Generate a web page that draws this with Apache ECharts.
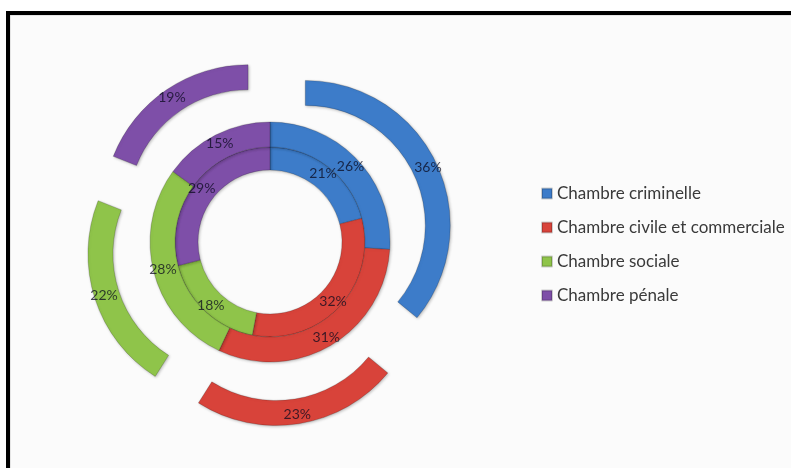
<!DOCTYPE html>
<html>
<head>
<meta charset="utf-8">
<script src="https://cdn.jsdelivr.net/npm/echarts@6/dist/echarts.min.js"></script>
<style>
html,body{margin:0;padding:0;background:#ffffff;}
#c{width:791px;height:468px;}
</style>
</head>
<body>
<div id="c"></div>
<script>
const categories = ['Chambre criminelle', 'Chambre civile et commerciale', 'Chambre sociale', 'Chambre pénale'];
const innerValues = [21, 32, 18, 29];
const middleValues = [26, 31, 28, 15];
const outerValues = [36, 23, 22, 19];
const colors = ['#3d7cc9', '#d8433a', '#8fc44a', '#7e4fa8'];

const chart = echarts.init(document.getElementById('c'), null, {renderer: 'canvas'});

function mk(values, selected) {
  return values.map((v, i) => ({
    name: categories[i],
    value: v,
    selected: selected,
    itemStyle: {color: colors[i]}
  }));
}

const labelCfg = {
  show: true,
  position: 'inside',
  formatter: '{c}%',
  fontFamily: 'Lato',
  fontSize: 14,
  color: 'rgba(10,10,30,0.75)'
};
const itemCfg = {
  borderColor: 'rgba(0,0,0,0.18)',
  borderWidth: 1,
  shadowColor: 'rgba(0,0,0,0.25)',
  shadowBlur: 3,
  shadowOffsetX: 1,
  shadowOffsetY: 1
};

const base = {
  type: 'pie',
  center: [270, 242],
  startAngle: 90,
  clockwise: true,
  avoidLabelOverlap: false,
  label: labelCfg,
  labelLine: {show: false},
  itemStyle: itemCfg,
  emphasis: {disabled: true},
  animation: false
};

chart.setOption({
  backgroundColor: '#ffffff',
  animation: false,
  graphic: [
    {type: 'rect', shape: {x: 10, y: 15, width: 800, height: 470}, style: {fill: '#fbfbfb', stroke: '#d0d0d0', lineWidth: 1}, z: -10},
    {type: 'polyline', shape: {points: [[8, 480], [8, 13], [800, 13]]}, style: {stroke: '#000', lineWidth: 4, fill: null}, z: 100}
  ],
  legend: {
    orient: 'vertical',
    left: 536,
    top: 180,
    itemWidth: 10,
    itemHeight: 10,
    itemGap: 17,
    icon: 'rect',
    selectedMode: false,
    data: categories,
    textStyle: {fontFamily: 'Lato', fontSize: 17, color: '#3a3a3a', lineHeight: 17}
  },
  series: [
    Object.assign({}, base, {
      name: 'inner',
      radius: [72, 95],
      data: mk(innerValues, false)
    }),
    Object.assign({}, base, {
      name: 'middle',
      radius: [95, 120],
      data: mk(middleValues, false)
    }),
    Object.assign({}, base, {
      name: 'outer',
      radius: [120, 145],
      selectedMode: 'multiple',
      selectedOffset: 39,
      label: {show: false},
      select: {itemStyle: itemCfg, label: {show: false}},
      data: mk(outerValues, true)
    }),
    Object.assign({}, base, {
      name: 'outerLabels',
      radius: [159, 184],
      silent: true,
      z: 5,
      itemStyle: {color: 'rgba(0,0,0,0)', borderWidth: 0},
      data: outerValues.map((v, i) => ({name: categories[i], value: v, itemStyle: {color: 'rgba(0,0,0,0)'}}))
    })
  ]
});
</script>
</body>
</html>
